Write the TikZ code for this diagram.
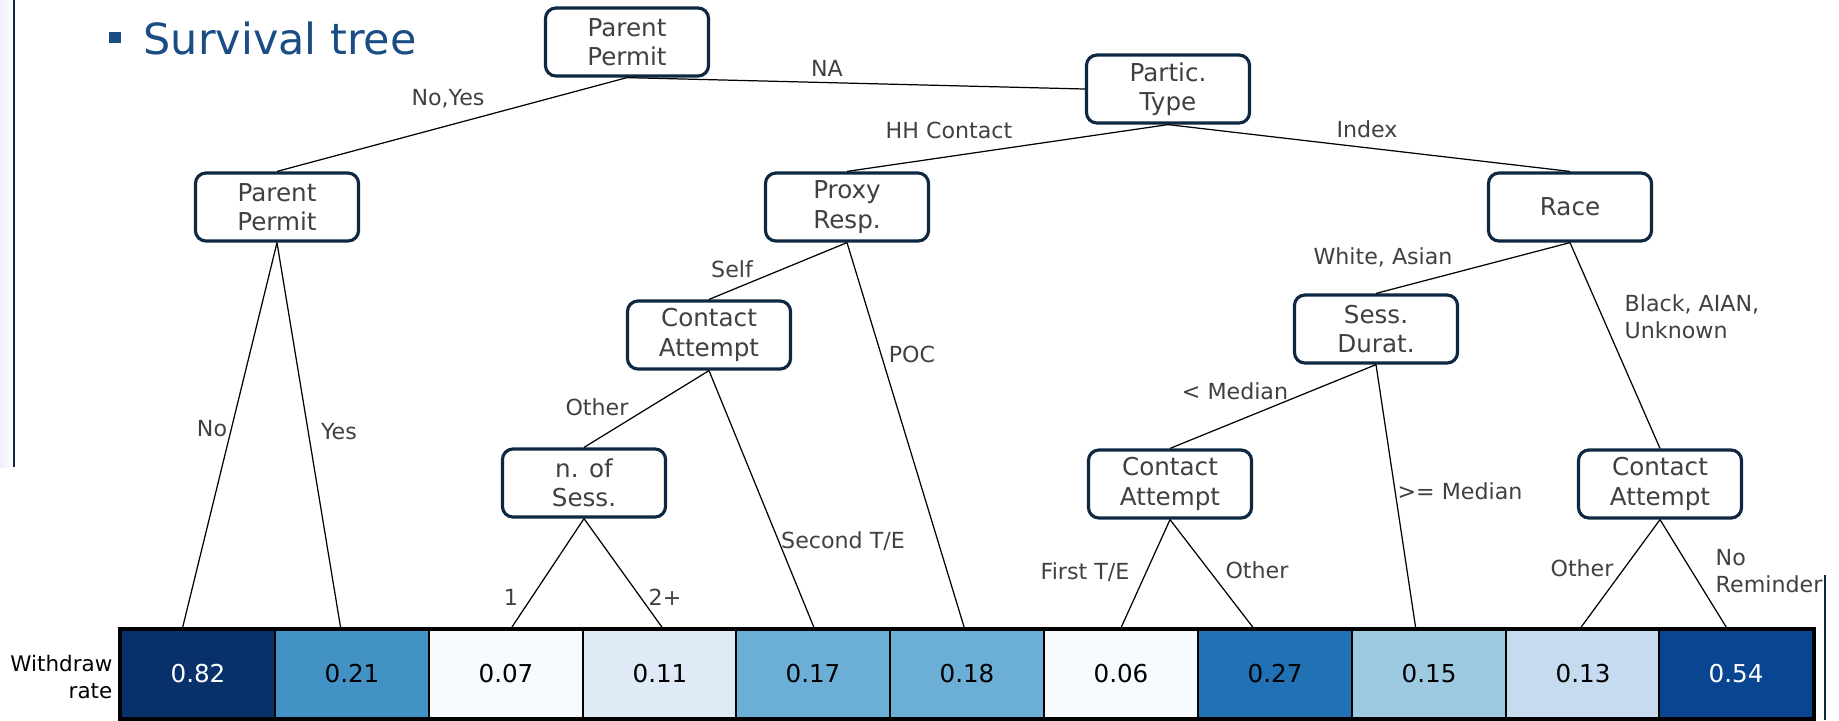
\documentclass[tikz,border=0pt]{standalone}
\usepackage{fontspec}
\setmainfont{DejaVu Sans}
\usepackage{tikz}
\usetikzlibrary{arrows}

\definecolor{boxline}{HTML}{0E2841}
\definecolor{txtgray}{HTML}{404040}
\definecolor{titleblue}{HTML}{1A4D85}
\definecolor{rateA}{HTML}{08306B}
\definecolor{rateB}{HTML}{4292C6}
\definecolor{rateC}{HTML}{F7FBFF}
\definecolor{rateD}{HTML}{DEEBF7}
\definecolor{rateE}{HTML}{6BAED6}
\definecolor{rateF}{HTML}{2171B5}
\definecolor{rateG}{HTML}{9ECAE1}
\definecolor{rateH}{HTML}{C6DBEF}
\definecolor{rateI}{HTML}{0A4591}

\begin{document}
\begin{tikzpicture}[x=0.01cm,y=-0.01cm]
    \tikzset{split/.style = {shape=rectangle, rounded corners=3pt, draw=boxline, line width=0.9pt, fill=white, minimum width=1.63cm, minimum height=0.68cm, align=center, text=txtgray, inner sep=1pt, font=\fontsize{7}{8.3}\selectfont}}
    \tikzset{edge/.style = {draw=black, line width=0.35pt, -}}
    \tikzset{lab/.style = {text=txtgray, inner sep=0pt, align=left, font=\fontsize{6.3}{7.6}\selectfont}}
    \tikzset{cell/.style = {shape=rectangle, draw=black, line width=0.7pt, minimum width=1.538cm, minimum height=0.88cm, inner sep=0pt, font=\fontsize{7}{8}\selectfont}}

    \useasboundingbox (0,0) rectangle (1839,720);

    % slide edges
    \shade[left color=blue!6, right color=white] (0,0) rectangle (14,467);
    \draw[boxline, line width=0.5pt] (14,0) -- (14,467);
    \draw[boxline, line width=0.5pt] (1825,575) -- (1825,720);

    % title
    \fill[titleblue] (109,32) rectangle (121,43);
    \node[anchor=west, inner sep=0pt, text=titleblue, font=\fontsize{12.2}{14}\selectfont] (title) at (143,38) {Survival tree};

    % vertices
    \node[split] (root)  at (627,42)  {Parent\\Permit};
    \node[split] (ptype) at (1168,89) {Partic.\\Type};
    \node[split] (perm)  at (277,207) {Parent\\Permit};
    \node[split] (proxy) at (847,207) {Proxy\\Resp.};
    \node[split] (race)  at (1570,207) {Race};
    \node[split] (catt)  at (709,335) {Contact\\Attempt};
    \node[split] (sdur)  at (1376,329) {Sess.\\Durat.};
    \node[split] (nsess) at (584,483) {n. of\\Sess.};
    \node[split] (cattb) at (1170,484) {Contact\\Attempt};
    \node[split] (cattc) at (1660,484) {Contact\\Attempt};

    % withdraw rate
    \node[anchor=east, inner sep=0pt, align=right, font=\fontsize{6.1}{7.6}\selectfont] (wlab) at (113,677) {Withdraw\\rate};
    \node[cell, fill=rateA, text=white] (c1)  at (198,674)  {0.82};
    \node[cell, fill=rateB] (c2)  at (352,674)  {0.21};
    \node[cell, fill=rateC] (c3)  at (506,674)  {0.07};
    \node[cell, fill=rateD] (c4)  at (660,674)  {0.11};
    \node[cell, fill=rateE] (c5)  at (813,674)  {0.17};
    \node[cell, fill=rateE] (c6)  at (967,674)  {0.18};
    \node[cell, fill=rateC] (c7)  at (1121,674) {0.06};
    \node[cell, fill=rateF] (c8)  at (1275,674) {0.27};
    \node[cell, fill=rateG] (c9)  at (1429,674) {0.15};
    \node[cell, fill=rateH] (c10) at (1583,674) {0.13};
    \node[cell, fill=rateI, text=white] (c11) at (1736,674) {0.54};
    \draw[black, line width=1.1pt] (c1.north west) rectangle (c11.south east);

    % leaf ends
    \coordinate (l1)  at (182,630);
    \coordinate (l2)  at (341,630);
    \coordinate (l3)  at (510,630);
    \coordinate (l4)  at (664,630);
    \coordinate (l5)  at (815,630);
    \coordinate (l6)  at (965,630);
    \coordinate (l7)  at (1120,630);
    \coordinate (l8)  at (1255,630);
    \coordinate (l9)  at (1416,630);
    \coordinate (l10) at (1579,630);
    \coordinate (l11) at (1728,630);

    % edges
    \draw[edge] (root.south) -- (perm.north);
    \draw[edge] (root.south) -- (ptype.west);
    \draw[edge] (ptype.south) -- (proxy.north);
    \draw[edge] (ptype.south) -- (race.north);
    \draw[edge] (perm.south) -- (l1);
    \draw[edge] (perm.south) -- (l2);
    \draw[edge] (proxy.south) -- (catt.north);
    \draw[edge] (proxy.south) -- (l6);
    \draw[edge] (catt.south) -- (nsess.north);
    \draw[edge] (catt.south) -- (l5);
    \draw[edge] (nsess.south) -- (l3);
    \draw[edge] (nsess.south) -- (l4);
    \draw[edge] (race.south) -- (sdur.north);
    \draw[edge] (race.south) -- (cattc.north);
    \draw[edge] (sdur.south) -- (cattb.north);
    \draw[edge] (sdur.south) -- (l9);
    \draw[edge] (cattb.south) -- (l7);
    \draw[edge] (cattb.south) -- (l8);
    \draw[edge] (cattc.south) -- (l10);
    \draw[edge] (cattc.south) -- (l11);

    % labels
    \node[lab] (tnoyes)  at (448,99)   {No,Yes};
    \node[lab] (tna)     at (827,68)   {NA};
    \node[lab] (thh)     at (949,130)  {HH Contact};
    \node[lab] (tindex)  at (1367,129) {Index};
    \node[lab] (tno)     at (212,429)  {No};
    \node[lab] (tyes)    at (339,432)  {Yes};
    \node[lab] (tself)   at (732,269)  {Self};
    \node[lab] (tpoc)    at (912,354)  {POC};
    \node[lab] (tothera) at (597,407)  {Other};
    \node[lab] (tsecond) at (843,541)  {Second T/E};
    \node[lab] (tone)    at (511,597)  {1};
    \node[lab] (ttwo)    at (665,597)  {2+};
    \node[lab] (twhite)  at (1383,257) {White, Asian};
    \node[lab, anchor=west] (tblack) at (1624,317) {Black, AIAN,\\Unknown};
    \node[lab] (tless)   at (1235,391) {< Median};
    \node[lab] (tgeq)    at (1460,491) {>= Median};
    \node[lab] (tfirst)  at (1085,572) {First T/E};
    \node[lab] (totherb) at (1257,570) {Other};
    \node[lab] (totherc) at (1582,568) {Other};
    \node[lab, anchor=west] (tremind) at (1715,571) {No\\Reminder};
\end{tikzpicture}
\end{document}
